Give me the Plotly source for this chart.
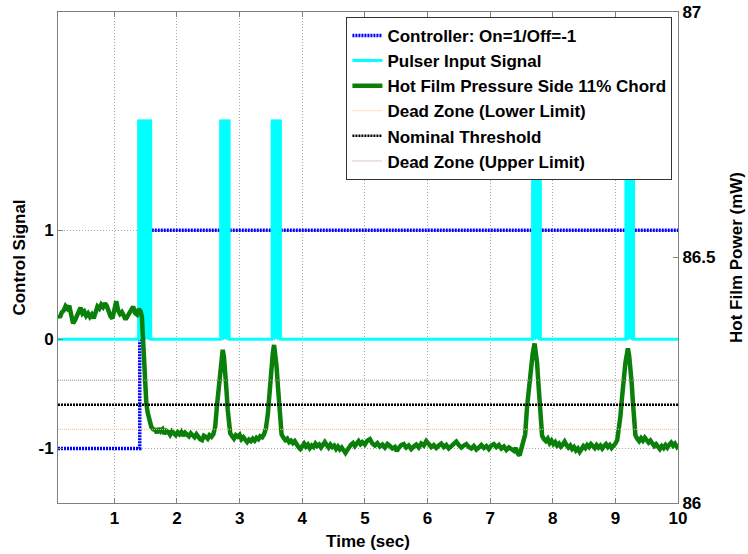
import plotly.graph_objects as go

# ---------------- data ----------------
# Controller state (left axis): On = 1 / Off = -1
CTRL_T = [0.1, 1.405, 1.405, 10.0]
CTRL_V = [-1, -1, 1, 1]

# Pulser input signal (left axis): bursts between 0 and 2
PULSE_START = [1.39, 2.70, 3.52, 7.68, 9.17]
PULSE_END = [1.58, 2.83, 3.65, 7.80, 9.29]
PULSE_LOW = 0
PULSE_HIGH = 2
T_MIN, T_MAX = 0.1, 10.0

# Hot film power, pressure side 11% chord (right axis, mW)
HF_T = [
    0.10, 0.13, 0.16, 0.19, 0.22, 0.25, 0.28, 0.31, 0.34, 0.37, 0.40, 0.43, 0.46, 0.49,
    0.52, 0.55, 0.58, 0.61, 0.64, 0.67, 0.70, 0.73, 0.76, 0.79, 0.82, 0.85, 0.88, 0.91,
    0.94, 0.97, 1.00, 1.03, 1.06, 1.09, 1.12, 1.15, 1.18, 1.21, 1.24, 1.27, 1.30, 1.33,
    1.36, 1.39, 1.42, 1.44, 1.46, 1.49, 1.51, 1.53, 1.55, 1.57, 1.59, 1.62, 1.65, 1.68,
    1.71, 1.74, 1.77, 1.80, 1.83, 1.86, 1.89, 1.92, 1.95, 1.98, 2.01, 2.04, 2.07, 2.10,
    2.13, 2.16, 2.19, 2.22, 2.25, 2.28, 2.31, 2.34, 2.37, 2.40, 2.43, 2.46, 2.49, 2.52,
    2.55, 2.58, 2.61, 2.64, 2.66, 2.68, 2.70, 2.72, 2.73, 2.75, 2.77, 2.79, 2.81, 2.83,
    2.85, 2.88, 2.91, 2.94, 2.97, 3.00, 3.03, 3.06, 3.09, 3.12, 3.15, 3.18, 3.21, 3.24,
    3.27, 3.30, 3.33, 3.36, 3.39, 3.42, 3.45, 3.47, 3.49, 3.51, 3.53, 3.55, 3.57, 3.59,
    3.61, 3.63, 3.65, 3.67, 3.70, 3.73, 3.76, 3.79, 3.82, 3.85, 3.88, 3.91, 3.94, 3.97,
    4.00, 4.03, 4.06, 4.09, 4.12, 4.15, 4.18, 4.21, 4.24, 4.27, 4.30, 4.33, 4.36, 4.39,
    4.42, 4.45, 4.48, 4.51, 4.54, 4.57, 4.60, 4.63, 4.66, 4.69, 4.72, 4.75, 4.78, 4.81,
    4.84, 4.87, 4.90, 4.93, 4.96, 5.00, 5.04, 5.08, 5.12, 5.16, 5.20, 5.24, 5.28, 5.32,
    5.36, 5.40, 5.44, 5.48, 5.51, 5.54, 5.58, 5.62, 5.66, 5.70, 5.74, 5.78, 5.82, 5.86,
    5.90, 5.94, 5.98, 6.02, 6.06, 6.10, 6.14, 6.18, 6.22, 6.26, 6.30, 6.34, 6.38, 6.42,
    6.46, 6.50, 6.54, 6.58, 6.62, 6.66, 6.70, 6.74, 6.78, 6.82, 6.86, 6.90, 6.94, 6.98,
    7.02, 7.06, 7.10, 7.14, 7.18, 7.22, 7.26, 7.30, 7.34, 7.38, 7.41, 7.44, 7.47, 7.50,
    7.53, 7.56, 7.59, 7.62, 7.65, 7.68, 7.71, 7.73, 7.75, 7.77, 7.79, 7.81, 7.83, 7.86,
    7.89, 7.92, 7.95, 7.98, 8.01, 8.04, 8.07, 8.10, 8.13, 8.16, 8.19, 8.22, 8.25, 8.28,
    8.31, 8.34, 8.37, 8.40, 8.43, 8.46, 8.49, 8.52, 8.55, 8.58, 8.61, 8.64, 8.67, 8.70,
    8.73, 8.76, 8.79, 8.82, 8.85, 8.88, 8.91, 8.94, 8.97, 9.00, 9.03, 9.06, 9.08, 9.11,
    9.13, 9.16, 9.18, 9.20, 9.22, 9.24, 9.26, 9.28, 9.30, 9.32, 9.35, 9.38, 9.41, 9.44,
    9.47, 9.50, 9.53, 9.56, 9.59, 9.62, 9.65, 9.68, 9.71, 9.74, 9.77, 9.80, 9.83, 9.86,
    9.89, 9.92, 9.95, 9.98, 10.00,
]
HF_P = [
    86.383, 86.378, 86.388, 86.392, 86.401, 86.396, 86.402, 86.385, 86.366, 86.372, 86.380, 86.393, 86.398, 86.386,
    86.390, 86.381, 86.386, 86.379, 86.384, 86.376, 86.393, 86.400, 86.396, 86.404, 86.399, 86.407, 86.401, 86.389,
    86.380, 86.376, 86.392, 86.411, 86.392, 86.385, 86.389, 86.383, 86.374, 86.380, 86.388, 86.394, 86.400, 86.387,
    86.384, 86.395, 86.390, 86.378, 86.318, 86.251, 86.204, 86.185, 86.176, 86.163, 86.155, 86.150, 86.149, 86.143,
    86.152, 86.146, 86.150, 86.141, 86.147, 86.145, 86.139, 86.146, 86.142, 86.138, 86.144, 86.140, 86.145, 86.137,
    86.143, 86.140, 86.136, 86.142, 86.138, 86.134, 86.140, 86.133, 86.130, 86.128, 86.137, 86.135, 86.131, 86.138,
    86.135, 86.140, 86.155, 86.200, 86.230, 86.262, 86.288, 86.305, 86.312, 86.298, 86.271, 86.230, 86.190, 86.160,
    86.142, 86.136, 86.131, 86.138, 86.135, 86.139, 86.130, 86.134, 86.128, 86.124, 86.129, 86.126, 86.131, 86.127,
    86.133, 86.130, 86.136, 86.134, 86.140, 86.152, 86.180, 86.215, 86.245, 86.280, 86.305, 86.322, 86.305, 86.278,
    86.240, 86.203, 86.165, 86.140, 86.133, 86.128, 86.131, 86.124, 86.127, 86.122, 86.126, 86.118, 86.114, 86.110,
    86.117, 86.121, 86.115, 86.119, 86.112, 86.117, 86.114, 86.121, 86.116, 86.119, 86.113, 86.120, 86.124, 86.118,
    86.113, 86.119, 86.114, 86.117, 86.110, 86.115, 86.109, 86.113, 86.106, 86.102, 86.108, 86.115, 86.119, 86.122,
    86.116, 86.121, 86.126, 86.120, 86.124, 86.119, 86.127, 86.130, 86.121, 86.117, 86.122, 86.115, 86.119, 86.113,
    86.120, 86.116, 86.111, 86.114, 86.106, 86.112, 86.118, 86.120, 86.113, 86.117, 86.110, 86.115, 86.119, 86.113,
    86.121, 86.117, 86.126, 86.120, 86.114, 86.118, 86.112, 86.117, 86.121, 86.114, 86.118, 86.111, 86.116, 86.120,
    86.125, 86.118, 86.113, 86.117, 86.120, 86.114, 86.111, 86.116, 86.109, 86.113, 86.118, 86.112, 86.116, 86.110,
    86.117, 86.120, 86.114, 86.118, 86.111, 86.115, 86.108, 86.113, 86.109, 86.106, 86.112, 86.101, 86.097, 86.110,
    86.124, 86.140, 86.196, 86.235, 86.280, 86.305, 86.325, 86.310, 86.285, 86.245, 86.203, 86.165, 86.137, 86.130,
    86.126, 86.131, 86.122, 86.127, 86.120, 86.124, 86.117, 86.121, 86.115, 86.119, 86.125, 86.118, 86.113, 86.117,
    86.110, 86.114, 86.107, 86.111, 86.104, 86.110, 86.116, 86.112, 86.118, 86.114, 86.120, 86.116, 86.112, 86.118,
    86.113, 86.117, 86.111, 86.116, 86.120, 86.114, 86.118, 86.112, 86.116, 86.121, 86.128, 86.150, 86.176, 86.220,
    86.251, 86.285, 86.300, 86.315, 86.300, 86.280, 86.245, 86.205, 86.165, 86.138, 86.131, 86.126, 86.132, 86.127,
    86.133, 86.129, 86.123, 86.127, 86.120, 86.116, 86.120, 86.114, 86.110, 86.116, 86.112, 86.118, 86.113, 86.119,
    86.123, 86.117, 86.121, 86.115, 86.119,
]

# Threshold levels (right axis, mW)
DEAD_ZONE_LOW = 86.15
NOMINAL_THRESHOLD = 86.20
DEAD_ZONE_HIGH = 86.25

X_TICKS = [1, 2, 3, 4, 5, 6, 7, 8, 9, 10]
Y_TICKS = [-1, 0, 1]
Y2_TICKS = [86, 86.5, 87]

# ---------------- build traces ----------------
pulse_x, pulse_y = [T_MIN], [PULSE_LOW]
fill_x, fill_y = [], []
for s, e in zip(PULSE_START, PULSE_END):
    pulse_x += [s, s, e, e]
    pulse_y += [PULSE_LOW, PULSE_HIGH, PULSE_HIGH, PULSE_LOW]
    fill_x += [s, s, e, e, None]
    fill_y += [PULSE_LOW, PULSE_HIGH, PULSE_HIGH, PULSE_LOW, None]
pulse_x.append(T_MAX)
pulse_y.append(PULSE_LOW)

FONT = "Liberation Sans, Arial, sans-serif"
fig = go.Figure()

fig.add_trace(go.Scatter(
    x=CTRL_T, y=CTRL_V, mode="lines", name="Controller: On=1/Off=-1",
    line=dict(color="#0000FF", width=3.5, dash="2px,1px"), yaxis="y"))
fig.add_trace(go.Scatter(
    x=fill_x, y=fill_y, mode="lines", fill="toself", fillcolor="#00FFFF",
    line=dict(color="#00FFFF", width=2.5), showlegend=False, yaxis="y"))
fig.add_trace(go.Scatter(
    x=pulse_x, y=pulse_y, mode="lines", name="Pulser Input Signal",
    line=dict(color="#00FFFF", width=3), yaxis="y"))
fig.add_trace(go.Scatter(
    x=HF_T, y=HF_P, mode="lines", name="Hot Film Pressure Side 11% Chord",
    line=dict(color="#0A800A", width=4.5), yaxis="y2"))
fig.add_trace(go.Scatter(
    x=[T_MIN, T_MAX], y=[DEAD_ZONE_LOW] * 2, mode="lines", name="Dead Zone (Lower Limit)",
    line=dict(color="#F7B98C", width=1, dash="1px,1px"), yaxis="y2"))
fig.add_trace(go.Scatter(
    x=[T_MIN, T_MAX], y=[NOMINAL_THRESHOLD] * 2, mode="lines", name="Nominal Threshold",
    line=dict(color="#000000", width=2.5, dash="2px,1px"), yaxis="y2"))
fig.add_trace(go.Scatter(
    x=[T_MIN, T_MAX], y=[DEAD_ZONE_HIGH] * 2, mode="lines", name="Dead Zone (Upper Limit)",
    line=dict(color="#B98A8A", width=1, dash="1px,1px"), yaxis="y2"))

axis_line = "#808080"
grid = "#A8A8A8"
fig.update_layout(
    width=748, height=554,
    margin=dict(l=58, r=70, t=12, b=51, autoexpand=False),
    paper_bgcolor="white", plot_bgcolor="white",
    font=dict(family=FONT, size=17, color="black", weight="bold"),
    showlegend=True,
    legend=dict(
        x=0.991, y=0.99, xanchor="right", yanchor="top",
        bgcolor="white", bordercolor="#333333", borderwidth=1,
        font=dict(family=FONT, size=17, color="black", weight="bold"),
        tracegroupgap=0,
    ),
    xaxis=dict(
        range=[T_MIN, T_MAX], tickvals=X_TICKS, ticktext=[str(v) for v in X_TICKS],
        showgrid=True, gridcolor=grid, griddash="1px,2px", gridwidth=1,
        showline=True, linecolor=axis_line, linewidth=1, mirror="ticks",
        ticks="inside", ticklen=5, tickcolor=axis_line, zeroline=False,
        automargin=False,
        title=dict(text="Time (sec)", standoff=7, font=dict(size=17)),
        tickfont=dict(size=17),
    ),
    yaxis=dict(
        range=[-1.5, 3], tickvals=Y_TICKS, ticktext=["-1", "0", "1"],
        showgrid=True, gridcolor=grid, griddash="1px,2px", gridwidth=1,
        showline=True, linecolor=axis_line, linewidth=1, mirror=True,
        ticks="inside", ticklen=5, tickcolor=axis_line, zeroline=False,
        automargin=False,
        title=dict(text="Control Signal", standoff=8, font=dict(size=17)),
        tickfont=dict(size=17),
    ),
    yaxis2=dict(
        range=[86, 87], tickvals=Y2_TICKS, ticktext=["86", "86.5", "87"],
        overlaying="y", side="right", showgrid=False,
        showline=True, linecolor=axis_line, linewidth=1,
        ticks="inside", ticklen=5, tickcolor=axis_line, zeroline=False,
        automargin=False,
        title=dict(text="Hot Film Power (mW)", standoff=15, font=dict(size=17)),
        tickfont=dict(size=17),
    ),
)

fig.write_html("out.html")
